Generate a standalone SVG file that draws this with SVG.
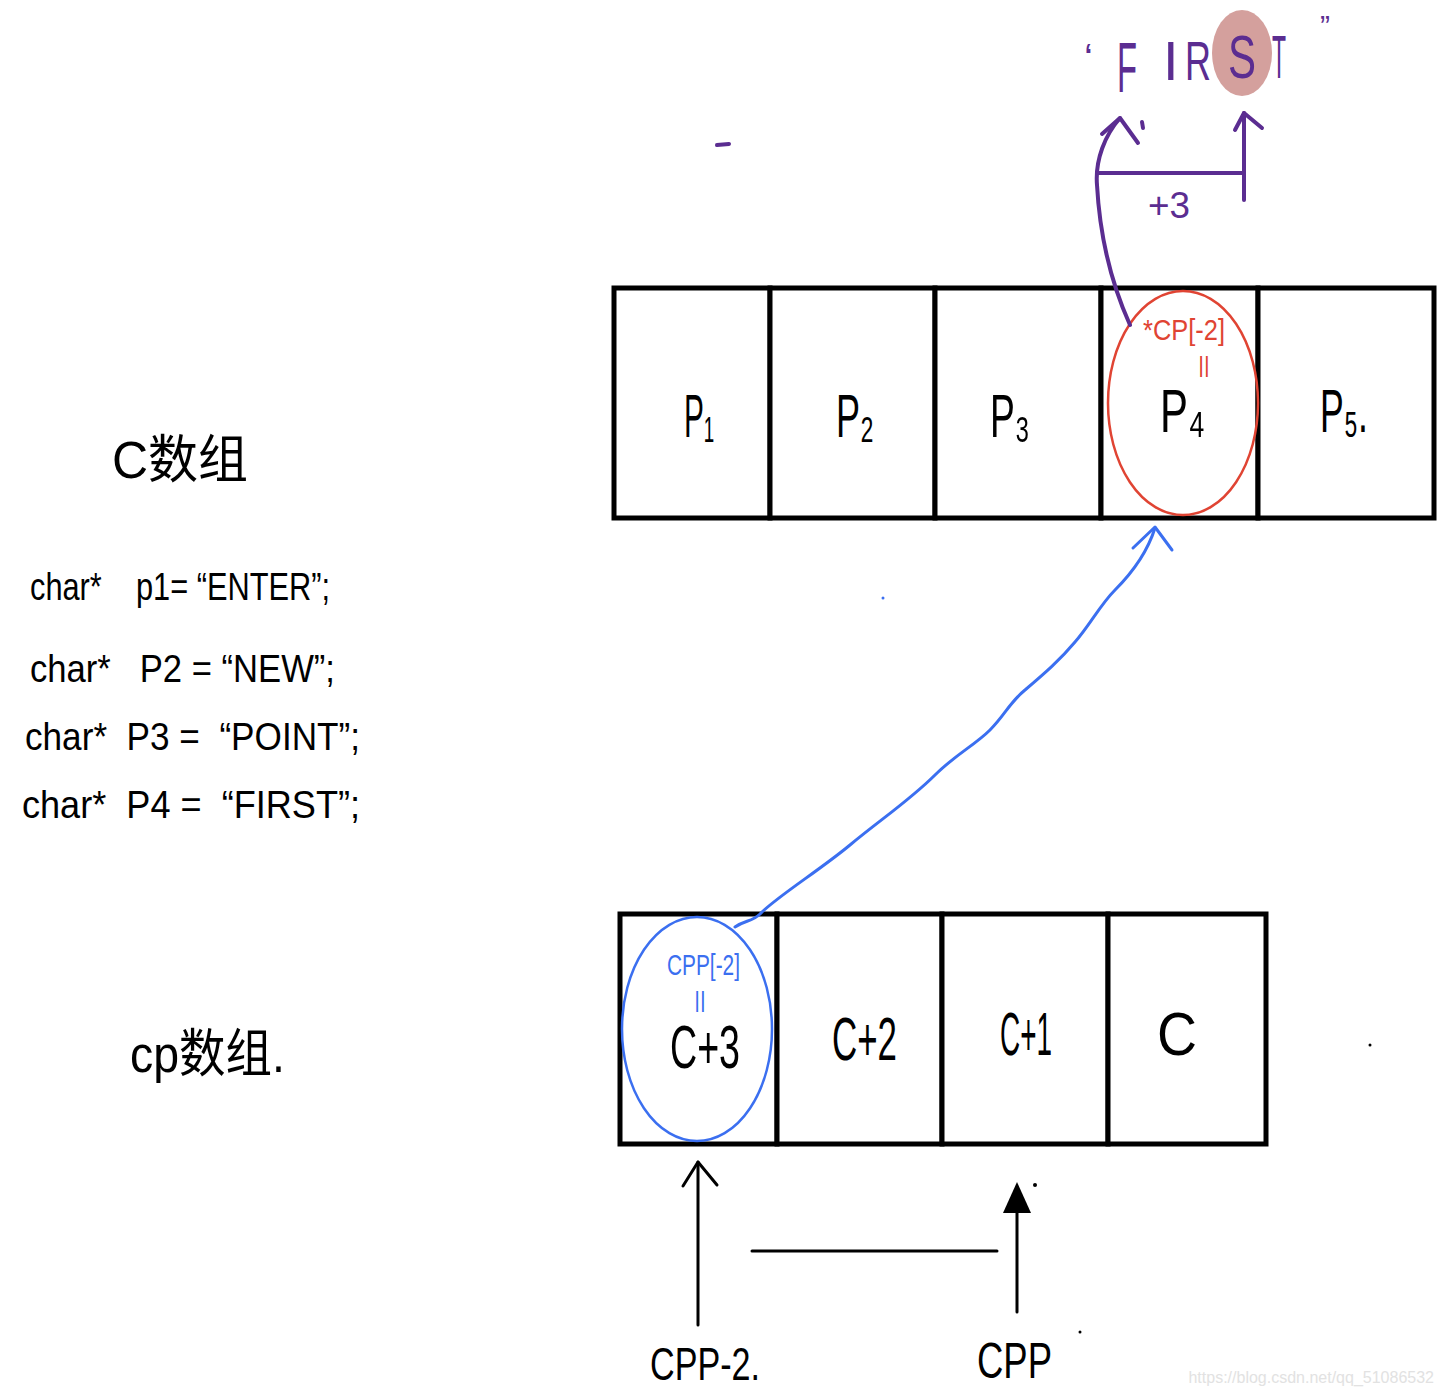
<svg xmlns="http://www.w3.org/2000/svg" width="1444" height="1395" viewBox="0 0 1444 1395">
<defs>
<style>
.cell{fill:#ffffff;stroke:#000;stroke-width:5}
.hw{font-family:"Liberation Sans","DejaVu Sans","Noto Sans CJK SC",sans-serif;fill:#000}
.lbl{font-size:62px}
.code{font-size:38px}
.pur{fill:#5b2d91}
.red{fill:#e04433}
.blue{fill:#3b6ff0}
.ps{fill:none;stroke:#5b2d91;stroke-width:4;stroke-linecap:round;stroke-linejoin:round}
.bs{fill:none;stroke:#3b6ff0;stroke-width:3;stroke-linecap:round;stroke-linejoin:round}
.ks{fill:none;stroke:#000;stroke-width:3;stroke-linecap:round;stroke-linejoin:round}
</style>
</defs>
<rect width="1444" height="1395" fill="#ffffff"/>

<g id="top-array">
<g id="c0"><rect class="cell" x="614" y="288" width="156" height="230"/><text class="hw lbl" x="684" y="437" textLength="30" lengthAdjust="spacingAndGlyphs">P₁</text></g>
<g id="c1"><rect class="cell" x="770" y="288" width="165" height="230"/><text class="hw lbl" x="836" y="437" textLength="38" lengthAdjust="spacingAndGlyphs">P₂</text></g>
<g id="c2"><rect class="cell" x="935" y="288" width="166" height="230"/><text class="hw lbl" x="990" y="437" textLength="40" lengthAdjust="spacingAndGlyphs">P₃</text></g>
<g id="c3"><rect class="cell" x="1101" y="288" width="157" height="230"/><text class="hw lbl" x="1160" y="432" textLength="45" lengthAdjust="spacingAndGlyphs">P₄</text></g>
<g id="c4"><rect class="cell" x="1258" y="288" width="176" height="230"/><text class="hw lbl" x="1320" y="432" textLength="48" lengthAdjust="spacingAndGlyphs">P₅.</text></g>
</g>

<g id="bottom-array">
<g id="cp0"><rect class="cell" x="620" y="914" width="157" height="230"/><text class="hw lbl" x="670" y="1068" font-size="58" textLength="70" lengthAdjust="spacingAndGlyphs">C+3</text></g>
<g id="cp1"><rect class="cell" x="777" y="914" width="165" height="230"/><text class="hw lbl" x="832" y="1060" font-size="58" textLength="65" lengthAdjust="spacingAndGlyphs">C+2</text></g>
<g id="cp2"><rect class="cell" x="942" y="914" width="166" height="230"/><text class="hw lbl" x="1000" y="1055" font-size="58" textLength="52" lengthAdjust="spacingAndGlyphs">C+1</text></g>
<g id="cp3"><rect class="cell" x="1108" y="914" width="158" height="230"/><text class="hw lbl" x="1157" y="1055" font-size="58" textLength="40" lengthAdjust="spacingAndGlyphs">C</text></g>
</g>

<g id="highlights">
<ellipse cx="1183" cy="403" rx="75" ry="112" fill="none" stroke="#e04433" stroke-width="2.5"/>
<text class="hw red" x="1143" y="340" font-size="30" textLength="82" lengthAdjust="spacingAndGlyphs">*CP[-2]</text>
<text class="hw red" x="1204" y="372" font-size="22" text-anchor="middle">||</text>
<ellipse cx="697" cy="1029" rx="75" ry="112" fill="none" stroke="#3b6ff0" stroke-width="2.5"/>
<text class="hw blue" x="667" y="975" font-size="30" textLength="73" lengthAdjust="spacingAndGlyphs">CPP[-2]</text>
<text class="hw blue" x="700" y="1007" font-size="22" text-anchor="middle">||</text>
</g>

<g id="first-string">
<ellipse cx="1242" cy="53" rx="30" ry="43" fill="#d4a09d"/>
<text class="hw pur" x="1084" y="72" font-size="40">‘</text>
<text class="hw pur" x="1117" y="92" font-size="70" textLength="20" lengthAdjust="spacingAndGlyphs">F</text>
<text class="hw pur" x="1163" y="80" font-size="56">I</text>
<text class="hw pur" x="1185" y="80" font-size="56" textLength="26" lengthAdjust="spacingAndGlyphs">R</text>
<text class="hw pur" x="1228" y="78" font-size="62" textLength="28" lengthAdjust="spacingAndGlyphs">S</text>
<text class="hw pur" x="1272" y="78" font-size="62" textLength="14" lengthAdjust="spacingAndGlyphs">T</text>
<text class="hw pur" x="1320" y="36" font-size="30">”</text>
</g>

<g id="labels">
<text class="hw" x="112" y="478" font-size="52" textLength="136" lengthAdjust="spacingAndGlyphs">C数组</text>
<text class="hw" x="130" y="1072" font-size="52" textLength="155" lengthAdjust="spacingAndGlyphs">cp数组.</text>
<g class="hw code">
<text x="30" y="600" xml:space="preserve" textLength="300" lengthAdjust="spacingAndGlyphs">char*    p1= “ENTER”;</text>
<text x="30" y="682" xml:space="preserve" textLength="305" lengthAdjust="spacingAndGlyphs">char*   P2 = “NEW”;</text>
<text x="25" y="750" xml:space="preserve" textLength="335" lengthAdjust="spacingAndGlyphs">char*  P3 =  “POINT”;</text>
<text x="22" y="818" xml:space="preserve" textLength="338" lengthAdjust="spacingAndGlyphs">char*  P4 =  “FIRST”;</text>
</g>
<text class="hw" x="650" y="1380" font-size="46" textLength="110" lengthAdjust="spacingAndGlyphs">CPP-2.</text>
<text class="hw" x="977" y="1378" font-size="50" textLength="75" lengthAdjust="spacingAndGlyphs">CPP</text>
<text class="hw pur" x="1148" y="218" font-size="36" textLength="42" lengthAdjust="spacingAndGlyphs">+3</text>
</g>

<g id="connectors">
<path class="bs" d="M735,927 C745,920 752,922 760,914 C775,898 820,870 850,845 C880,820 910,800 935,775 C955,755 975,745 990,730 C1005,715 1010,702 1025,690 C1045,673 1060,660 1075,642 C1090,625 1100,605 1115,590 C1135,570 1148,550 1155,528"/>
<path class="bs" d="M1133,548 L1155,527 L1172,550"/>
<path class="ps" d="M1130,325 C1112,285 1100,240 1097,185 C1095,160 1105,135 1120,118"/>
<path class="ps" d="M1102,134 L1120,118 L1138,143"/>
<path class="ps" d="M1142,122 L1143,128"/>
<path class="ps" d="M1098,173 L1243,173"/>
<path class="ps" d="M1244,200 L1244,113"/>
<path class="ps" d="M1235,130 L1244,113 L1262,128"/>
<path class="ks" d="M698,1325 L698,1162"/>
<path class="ks" d="M683,1186 L698,1162 L717,1185"/>
<path class="ks" d="M752,1251 L997,1251"/>
<path class="ks" d="M1017,1312 L1017,1212"/>
<polygon points="1003,1213 1017,1182 1031,1213" fill="#000"/>
</g>

<g id="marks">
<path class="ps" d="M717,145 L729,144" stroke-width="3"/>
<circle cx="883" cy="598" r="1.5" fill="#3b6ff0"/>
<circle cx="1370" cy="1045" r="1.5" fill="#000"/>
<circle cx="1035" cy="1185" r="2" fill="#000"/>
<circle cx="1080" cy="1332" r="1.5" fill="#000"/>
</g>

<text x="1434" y="1383" font-family="Liberation Sans, sans-serif" font-size="16" fill="#e2e2e2" text-anchor="end">https://blog.csdn.net/qq_51086532</text>
</svg>
